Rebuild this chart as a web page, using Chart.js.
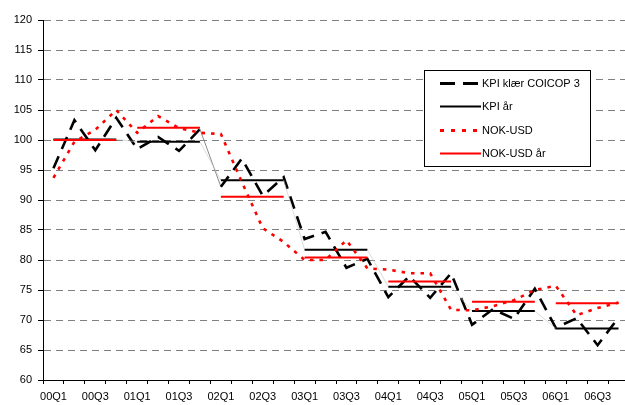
<!DOCTYPE html>
<html>
<head>
<meta charset="utf-8">
<script src="https://cdn.jsdelivr.net/npm/chart.js@4.4.1/dist/chart.umd.min.js"></script>
<style>
  html, body { margin: 0; padding: 0; background: #fff; overflow: hidden; }
  canvas { display: block; }
</style>
</head>
<body>
<canvas id="chart" width="630" height="405"></canvas>
<script>
// Quarterly categories 2000–2006
const quarters = [
  '00Q1','00Q2','00Q3','00Q4','01Q1','01Q2','01Q3','01Q4',
  '02Q1','02Q2','02Q3','02Q4','03Q1','03Q2','03Q3','03Q4',
  '04Q1','04Q2','04Q3','04Q4','05Q1','05Q2','05Q3','05Q4',
  '06Q1','06Q2','06Q3','06Q4'
];
const years = ['00','01','02','03','04','05','06'];

// KPI klær COICOP 3, quarterly index
const kpiKlaer = [
  95.3, 103.3, 98.3, 103.7,
  98.5, 100.5, 98.2, 101.8,
  92.2, 96.9, 90.7, 93.8,
  83.5, 84.7, 78.7, 80.2,
  73.8, 77.3, 73.7, 77.8,
  69.2, 71.8, 70.2, 75.2,
  68.7, 70.3, 65.8, 70.4
];
// KPI klær, yearly level
const kpiAar = [100.1, 99.7, 93.3, 81.7, 75.55, 71.5, 68.6];

// NOK-USD, quarterly index
const nokUsd = [
  93.7, 99.7, 101.7, 105.0,
  101.2, 104.0, 102.0, 101.2,
  101.0, 93.0, 85.3, 83.0,
  80.0, 80.0, 83.3, 78.6,
  78.4, 77.8, 77.8, 71.7,
  71.6, 72.3, 73.3, 75.0,
  75.7, 70.8, 72.0, 72.9
];
// NOK-USD, yearly level
const nokUsdAar = [100.0, 102.05, 90.55, 80.4, 76.4, 73.05, 72.8];

// Value axis
const yMin = 60, yMax = 120, yStep = 5;

// The KPI klær segment drawn as a thin connector
const thinKpiSegmentStart = '01Q4';

// Spread a yearly level over that year's four quarters
const perQuarter = annual => quarters.map(q => annual[years.indexOf(q.slice(0, 2))]);
const isYearEnd = i => quarters[i].endsWith('Q4');

// Legend drawn inside the plot as a framed box
const boxLegend = {
  id: 'boxLegend',
  afterDatasetsDraw(chart) {
    const ctx = chart.ctx;
    const x = 424, y = 70, w = 166, h = 96;
    ctx.save();
    ctx.fillStyle = '#fff';
    ctx.fillRect(x, y, w, h);
    ctx.strokeStyle = '#000';
    ctx.lineWidth = 1;
    ctx.setLineDash([]);
    ctx.strokeRect(x + 0.5, y + 0.5, w, h);
    const rows = [83, 106, 129.5, 153];
    chart.data.datasets.forEach((ds, i) => {
      const ry = Math.round(rows[i]) + 0.5;
      ctx.beginPath();
      ctx.strokeStyle = ds.borderColor;
      ctx.lineWidth = ds.legendWidth;
      ctx.setLineDash(ds.legendDash || []);
      ctx.lineCap = 'butt';
      ctx.moveTo(440, ry);
      ctx.lineTo(481, ry);
      ctx.stroke();
      ctx.setLineDash([]);
      ctx.fillStyle = '#000';
      ctx.font = '11px "Liberation Sans", Arial, sans-serif';
      ctx.textBaseline = 'middle';
      ctx.textAlign = 'left';
      ctx.fillText(ds.label, 482, ry);
    });
    ctx.restore();
  }
};

new Chart(document.getElementById('chart'), {
  type: 'line',
  data: {
    labels: quarters,
    datasets: [
      {
        label: 'KPI klær COICOP 3',
        data: kpiKlaer,
        borderColor: '#000',
        borderWidth: 2.6,
        borderDash: [13, 8],
        legendWidth: 2.8,
        legendDash: [15, 8],
        order: 3,
        segment: {
          borderWidth: c => quarters[c.p0DataIndex] === thinKpiSegmentStart ? 1 : undefined,
          borderDash: c => quarters[c.p0DataIndex] === thinKpiSegmentStart ? [] : undefined,
          borderColor: c => quarters[c.p0DataIndex] === thinKpiSegmentStart ? '#8a8a8a' : undefined
        }
      },
      {
        label: 'KPI år',
        data: perQuarter(kpiAar),
        borderColor: '#000',
        borderWidth: 2,
        legendWidth: 2,
        order: 2,
        segment: {
          borderWidth: c => isYearEnd(c.p0DataIndex) ? 0.6 : undefined,
          borderColor: c => isYearEnd(c.p0DataIndex) ? '#c4c4c4' : undefined
        }
      },
      {
        label: 'NOK-USD',
        data: nokUsd,
        borderColor: '#ff0000',
        borderWidth: 2.6,
        borderDash: [3.5, 6],
        legendWidth: 3,
        legendDash: [4, 7],
        order: 1
      },
      {
        label: 'NOK-USD år',
        data: perQuarter(nokUsdAar),
        borderColor: '#ff0000',
        borderWidth: 2,
        legendWidth: 2,
        order: 0,
        segment: {
          borderColor: c => isYearEnd(c.p0DataIndex) ? 'rgba(0,0,0,0)' : undefined
        }
      }
    ]
  },
  options: {
    responsive: false,
    animation: false,
    layout: { padding: { top: 20, right: 1, left: 0, bottom: 0 } },
    elements: {
      point: { radius: 0, hoverRadius: 0 },
      line: { tension: 0, fill: false, borderCapStyle: 'butt' }
    },
    plugins: {
      legend: { display: false },
      tooltip: { enabled: false }
    },
    scales: {
      x: {
        type: 'category',
        offset: true,
        afterFit: s => { s.height = 25; },
        grid: {
          offset: true,
          drawOnChartArea: false,
          drawTicks: true,
          tickLength: 4,
          tickColor: '#000',
          tickWidth: 1
        },
        border: { display: true, color: '#000', width: 1 },
        ticks: {
          autoSkip: false,
          maxRotation: 0,
          minRotation: 0,
          padding: 6,
          color: '#000',
          font: { family: '"Liberation Sans", Arial, sans-serif', size: 11 },
          callback: (v, i) => (i % 2 === 0 ? quarters[i] : '')
        }
      },
      y: {
        min: yMin,
        max: yMax,
        afterFit: s => { s.width = 43; },
        grid: {
          color: '#808080',
          lineWidth: 1,
          drawTicks: true,
          tickLength: 5,
          tickColor: '#000',
          tickBorderDash: []
        },
        border: { display: true, color: '#000', width: 1, dash: [7, 5] },
        ticks: {
          stepSize: yStep,
          padding: 6,
          color: '#000',
          font: { family: '"Liberation Sans", Arial, sans-serif', size: 11 }
        }
      }
    }
  },
  plugins: [boxLegend]
});
</script>
</body>
</html>
